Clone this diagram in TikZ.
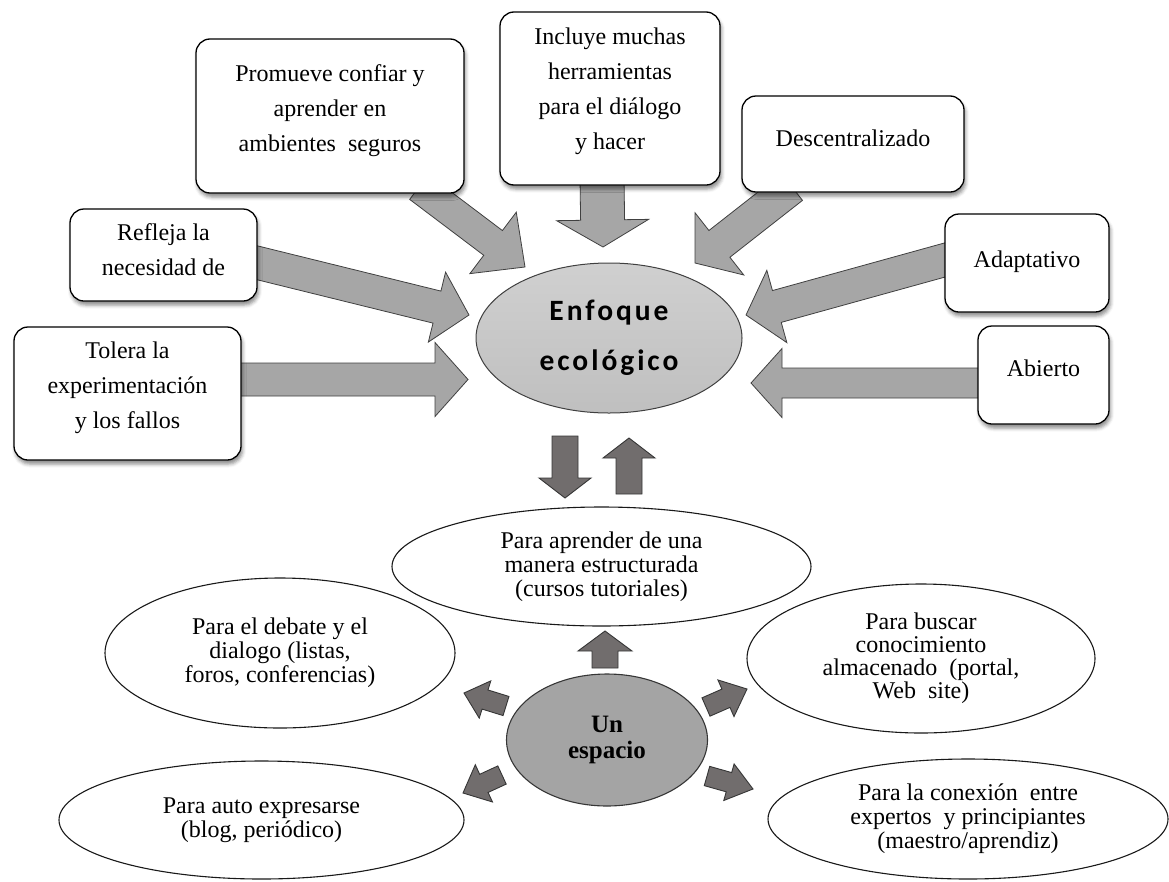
\documentclass[tikz,border=0pt]{standalone}
\usepackage{fontspec}
\setmainfont{Liberation Serif}
\newfontfamily\serf{Liberation Serif}
\newfontfamily\enffont[LetterSpace=10]{Carlito}
\usetikzlibrary{calc,shapes.geometric,shadows.blur}
\definecolor{bigfill}{HTML}{A6A6A6}
\definecolor{bigline}{HTML}{404040}
\definecolor{smallfill}{HTML}{716D6D}
\definecolor{smallline}{HTML}{363636}
\definecolor{espfill}{HTML}{A4A4A4}
\pgfdeclarelayer{bg}
\pgfsetlayers{bg,main}
% block arrow: #1 tail, #2 tip, #3 shaft half width, #4 head half width, #5 head length, #6 style
\newcommand\blockarrow[6]{%
  \coordinate (badd) at ($(#2)!#5!(#1)$);
  \path[#6] ($(#1)!#3!90:(#2)$) -- ($(badd)!#3!-90:(#1)$) -- ($(badd)!#4!-90:(#1)$)
    -- (#2) -- ($(badd)!#4!90:(#1)$) -- ($(badd)!#3!90:(#1)$) -- ($(#1)!#3!-90:(#2)$) -- cycle;}
\newcommand\bxt[4]{\parbox[c][#1][c]{#2}{\centering\serf\fontsize{24}{35}\selectfont #4\par\vspace*{#3}}}
\tikzset{
  rbox/.style={draw=black, line width=1.3pt, fill=white, rounded corners=14pt, inner sep=0pt,
    blur shadow={shadow xshift=1.5pt, shadow yshift=-4pt, shadow blur radius=3.5pt, shadow opacity=45}},
  oval/.style={ellipse, draw=black!90, line width=1.1pt, fill=white, inner sep=0pt, align=center,
    font=\serf\fontsize{24}{24}\selectfont},
  bigarrow/.style={fill=bigfill, draw=bigline, line width=0.8pt, line join=miter},
  smallarrow/.style={fill=smallfill, draw=smallline, line width=0.9pt, line join=miter},
}
\begin{document}
\begin{tikzpicture}[x=1pt, y=-1pt]
\useasboundingbox (0,0) rectangle (1169,881);

% top boxes
\node[rbox] (prom) at (330,116)    {\bxt{154pt}{268pt}{10pt}{Promueve confiar y\\aprender en\\ambientes\ \ seguros}};
\node[rbox] (incl) at (610,98.5)   {\bxt{173pt}{220pt}{14pt}{Incluye muchas\\herramientas\\para el diálogo\\y hacer}};
\node[rbox] (desc) at (853,144)    {\bxt{96pt}{222pt}{12pt}{Descentralizado}};
\node[rbox] (refl) at (163.5,255)  {\bxt{92pt}{187pt}{11pt}{Refleja\ la\\necesidad de}};
\node[rbox] (adap) at (1027,263)   {\bxt{98pt}{164pt}{2pt}{Adaptativo}};
\node[rbox] (tole) at (127.5,393.5){\bxt{133pt}{227pt}{11pt}{Tolera la\\experimentación\\y los fallos}};
\node[rbox] (abie) at (1043.5,375) {\bxt{98pt}{131pt}{14pt}{Abierto}};

% central ellipse
\node[ellipse, draw=bigline, line width=1pt, top color=gray!37, bottom color=gray!50, inner sep=0pt,
      minimum width=266pt, minimum height=150pt, align=center,
      font=\enffont\bfseries\fontsize{29.5}{50}\selectfont] (enf) at (609,338) {Enfoque\\ecológico};

% lower ellipses
\node[oval, minimum width=419pt, minimum height=119pt] (apr) at (601.5,566.5)
  {Para aprender de una\\manera estructurada\\(cursos tutoriales)};
\node[oval, minimum width=350pt, minimum height=150pt] (deb) at (280,653)
  {Para el debate y el\\dialogo (listas,\\foros, conferencias)};
\node[oval, minimum width=405pt, minimum height=118pt] (auto) at (261.5,820)
  {Para auto expresarse\\(blog, periódico)};
\node[oval, minimum width=348pt, minimum height=149pt, font=\serf\fontsize{24}{23}\selectfont] (bus) at (921,658.5)
  {Para buscar\\conocimiento\\almacenado\ \ (portal,\\Web\ \ site)};
\node[oval, minimum width=400pt, minimum height=120pt] (con) at (968,819)
  {Para la conexión\ \ entre\\expertos\ \ y principiantes\\(maestro/aprendiz)};
\node[ellipse, draw=smallline, line width=1.1pt, fill=espfill, inner sep=0pt,
      minimum width=201pt, minimum height=132pt, align=center,
      font=\serf\bfseries\fontsize{25}{26}\selectfont] (esp) at (607,740) {Un\\espacio};

% arrow end points
\coordinate (pT) at (419,187);   \coordinate (pH) at (525,267);
\coordinate (iT) at (602,178);   \coordinate (iH) at (603,247);
\coordinate (dT) at (792,187);   \coordinate (dH) at (695,263);
\coordinate (rT) at (250,261);   \coordinate (rH) at (469,315);
\coordinate (tT) at (234,379.5); \coordinate (tH) at (468,379.5);
\coordinate (aT) at (952,258);   \coordinate (aH) at (746,315);
\coordinate (bT) at (985,383);   \coordinate (bH) at (751,383);
\coordinate (vdT) at (565,436);  \coordinate (vdH) at (565,498);
\coordinate (vuT) at (629,494);  \coordinate (vuH) at (629,438);
\coordinate (s1T) at (605,668);  \coordinate (s1H) at (605,631);
\coordinate (s2T) at (506,706);  \coordinate (s2H) at (464,693);
\coordinate (s3T) at (502,775);  \coordinate (s3H) at (463,793);
\coordinate (s4T) at (706,707);  \coordinate (s4H) at (747,689);
\coordinate (s5T) at (707,776);  \coordinate (s5H) at (753,789);

\begin{pgfonlayer}{bg}
\blockarrow{pT}{pH}{15.5pt}{38.5pt}{40pt}{bigarrow}
\blockarrow{iT}{iH}{22pt}{46pt}{27pt}{bigarrow}
\blockarrow{dT}{dH}{17pt}{39.5pt}{31pt}{bigarrow}
\blockarrow{rT}{rH}{16.5pt}{36pt}{33pt}{bigarrow}
\blockarrow{tT}{tH}{16.5pt}{37pt}{33pt}{bigarrow}
\blockarrow{aT}{aH}{16.5pt}{37.5pt}{32pt}{bigarrow}
\blockarrow{bT}{bH}{15pt}{34.5pt}{31pt}{bigarrow}
\end{pgfonlayer}

\blockarrow{vdT}{vdH}{13pt}{26pt}{20pt}{smallarrow}
\blockarrow{vuT}{vuH}{13pt}{26pt}{20pt}{smallarrow}
\blockarrow{s1T}{s1H}{13pt}{27pt}{20pt}{smallarrow}
\blockarrow{s2T}{s2H}{10pt}{19.5pt}{22pt}{smallarrow}
\blockarrow{s3T}{s3H}{10pt}{20.5pt}{23pt}{smallarrow}
\blockarrow{s4T}{s4H}{10pt}{20pt}{23pt}{smallarrow}
\blockarrow{s5T}{s5H}{10pt}{19pt}{25pt}{smallarrow}
\end{tikzpicture}
\end{document}
